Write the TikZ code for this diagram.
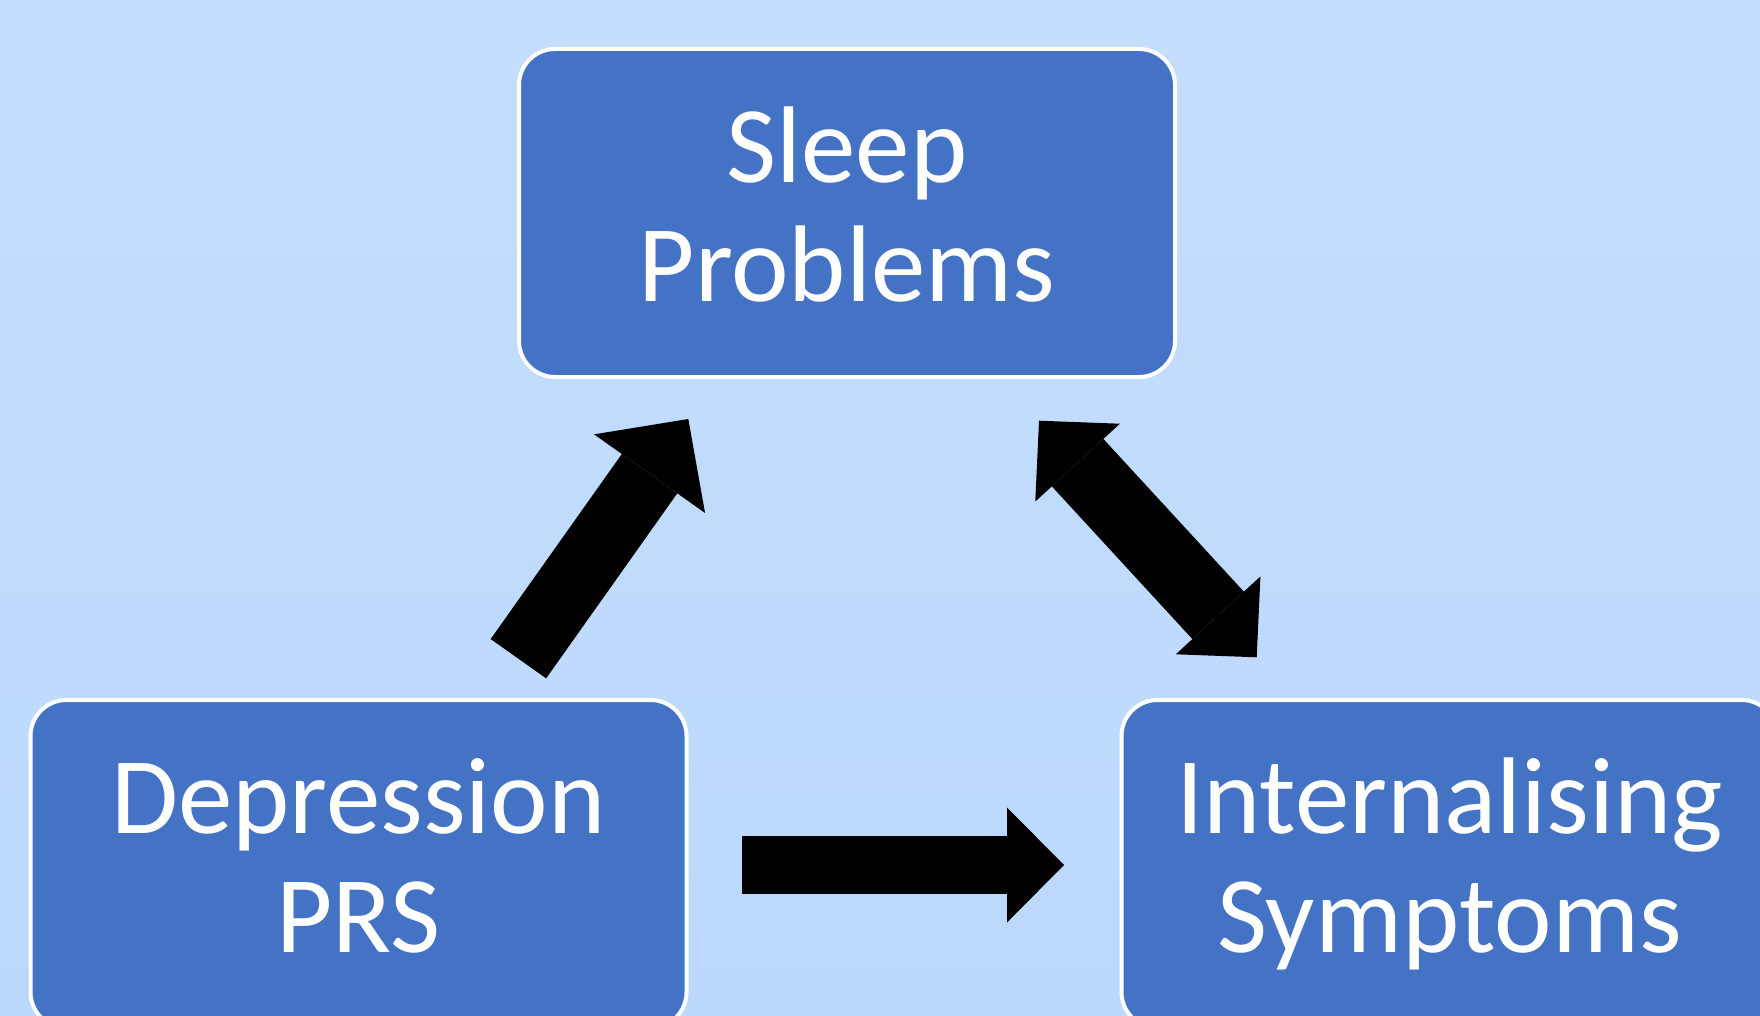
\documentclass[tikz,border=0pt]{standalone}
\usepackage{fontspec}
\setmainfont{Carlito}
\usepackage{tikz}
\usetikzlibrary{arrows.meta}

\definecolor{boxblue}{RGB}{68,114,196}
\definecolor{bgtop}{RGB}{198,222,253}
\definecolor{bgbottom}{RGB}{187,216,252}

\begin{document}
\begin{tikzpicture}[x=1pt,y=-1pt,
  box/.style={rectangle, rounded corners=36pt, fill=boxblue, draw=white,
    line width=4pt, minimum width=656pt, minimum height=328pt,
    text=white, align=center, text depth=18pt,
    font=\fontsize{109}{119}\selectfont},
  fatarrow/.style n args={3}{draw=black, line width=#1,
    -{Triangle[length=#2, width=#3, line width=0pt]}},
  fatdouble/.style n args={3}{draw=black, line width=#1,
    {Triangle[length=#2, width=#3, line width=0pt]}-{Triangle[length=#2, width=#3, line width=0pt]}}]
\useasboundingbox (0,0) rectangle (1760,1016);
\clip (0,0) rectangle (1760,1016);
% background
\shade[top color=bgtop, bottom color=bgbottom] (0,0) rectangle (1760,1016);
%%% Draws boxes
\node[box] (sleep) at (847,213) {Sleep\\Problems};
\node[box] (depr) at (358.5,864) {Depression\\PRS};
\node[box] (intern) at (1449.5,864) {Internalising\\Symptoms};
%%% Draws arrows
% arrow ends
\coordinate (depr-out) at (518.4,658.7);
\coordinate (sleep-in) at (688.3,419);
\coordinate (depr-right) at (742,865);
\coordinate (intern-in) at (1064,865);
\coordinate (sleep-end) at (1039,420.7);
\coordinate (intern-end) at (1256.7,657.3);
% depression to sleep
\draw[fatarrow={68pt}{67pt}{136pt}] (depr-out) -- (sleep-in);
% depression to internalising
\draw[fatarrow={58pt}{57pt}{115pt}] (depr-right) -- (intern-in);
% sleep and internalising
\draw[fatdouble={70pt}{57pt}{115pt}] (sleep-end) -- (intern-end);
\end{tikzpicture}
\end{document}
